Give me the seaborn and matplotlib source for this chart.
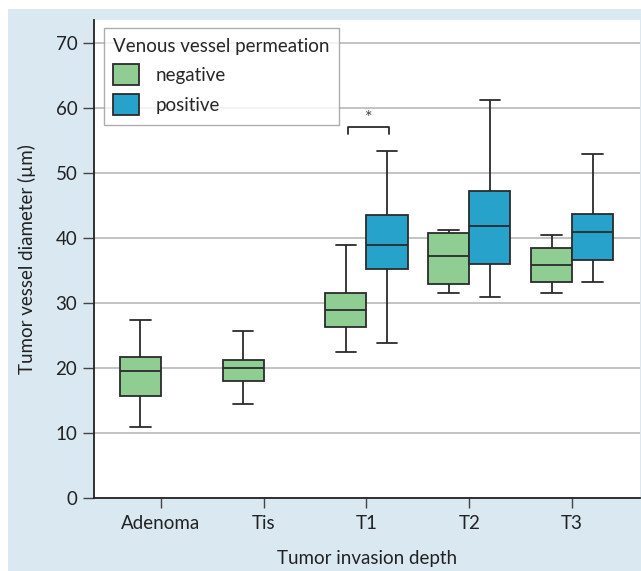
import pandas as pd
import seaborn as sns
import matplotlib.pyplot as plt
from matplotlib.patches import Rectangle

categories = ['Adenoma', 'Tis', 'T1', 'T2', 'T3']
hue_levels = ['negative', 'positive']

# five-number summaries: [min, q1, median, q3, max]
negative_stats = {
    'Adenoma': [11.0, 15.7, 19.6, 21.7, 27.4],
    'Tis': [14.4, 18.0, 20.0, 21.2, 25.7],
    'T1': [22.5, 26.4, 28.9, 31.5, 39.0],
    'T2': [31.5, 32.9, 37.3, 40.8, 41.2],
    'T3': [31.6, 33.3, 35.8, 38.5, 40.5],
}
positive_stats = {
    'T1': [23.9, 35.2, 38.9, 43.6, 53.5],
    'T2': [30.9, 36.1, 41.9, 47.3, 61.3],
    'T3': [33.3, 36.7, 40.9, 43.8, 52.9],
}

rows = []
for cat, vals in negative_stats.items():
    rows += [(cat, 'negative', v) for v in vals]
for cat, vals in positive_stats.items():
    rows += [(cat, 'positive', v) for v in vals]
df = pd.DataFrame(rows, columns=['depth', 'permeation', 'diameter'])

sns.set_style('white')
plt.rcParams['font.family'] = ['Lato', 'DejaVu Sans']

fig = plt.figure(figsize=(6.41, 5.71), dpi=100)
fig.patch.set_facecolor('white')
fig.patches.append(Rectangle((8 / 641, 0), 1, 1 - 9 / 571, transform=fig.transFigure,
                             facecolor='#d9e8f1', edgecolor='none', zorder=-10))
ax = fig.add_axes([94 / 641, 1 - 498 / 571, 546 / 641, 478 / 571])
ax.set_facecolor('white')

sns.boxplot(data=df, x='depth', y='diameter', hue='permeation', order=categories,
            hue_order=hue_levels, palette={'negative': '#8fcd93', 'positive': '#27a2cb'},
            whis=(0, 100), width=0.8, linecolor='#2b2b2b', linewidth=1.3, saturation=1,
            ax=ax, zorder=3)

ax.set_xlim(-0.65, 4.66)
ax.set_ylim(0, 73.6)
ax.set_yticks(range(0, 71, 10))
ax.yaxis.grid(True, color='#b3b3b3', linewidth=1.1)
ax.set_axisbelow(True)
for s in ['top', 'right']:
    ax.spines[s].set_visible(False)
for s in ['left', 'bottom']:
    ax.spines[s].set_color('#222222')
    ax.spines[s].set_linewidth(1.3)
ax.tick_params(axis='both', direction='out', width=1, color='#444444',
               labelsize=13.5, labelcolor='#222222', left=True, bottom=True)
ax.tick_params(axis='y', length=8, pad=4)
ax.tick_params(axis='x', length=7, pad=5)
ax.set_xlabel('Tumor invasion depth', fontsize=13.5, color='#222222', labelpad=13)
ax.set_ylabel('Tumor vessel diameter (µm)', fontsize=13.5, color='#222222', labelpad=14)

# significance bracket for T1
ax.plot([1.82, 1.82, 2.22, 2.22], [56.0, 57.2, 57.2, 56.0], color='#2b2b2b', lw=1.3)
ax.text(2.02, 57.3, '*', ha='center', va='bottom', fontsize=13, color='#444444')

leg = ax.legend(title='Venous vessel permeation', loc='upper left',
                bbox_to_anchor=(0.018, 0.983), borderaxespad=0, fontsize=13.5,
                title_fontsize=13.5, frameon=True, fancybox=False, alignment='left',
                handlelength=1.35, handleheight=1.35, labelspacing=0.5,
                handletextpad=0.9, borderpad=0.5)
leg.get_frame().set_edgecolor('#999999')
leg.get_frame().set_linewidth(1)

plt.savefig('out.png', dpi=100)
